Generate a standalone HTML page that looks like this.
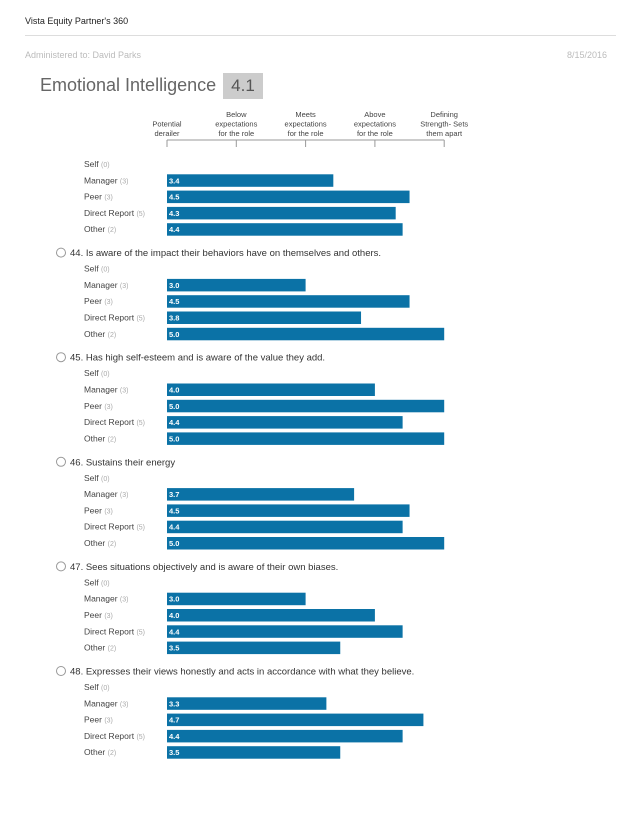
<!DOCTYPE html>
<html><head><meta charset="utf-8"><style>
body{margin:0;width:638px;height:826px;background:#fff;font-family:"Liberation Sans",sans-serif;position:relative;overflow:hidden}
.a{position:absolute;white-space:nowrap}
</style></head><body>
<div class="a" style="left:25px;top:16px;font-size:9px;color:#222">Vista Equity Partner's 360</div>
<div class="a" style="left:25px;top:35px;width:591px;height:1px;background:#ddd"></div>
<div class="a" style="left:25px;top:50px;font-size:9px;color:#bbb">Administered to: David Parks</div>
<div class="a" style="left:567px;top:50px;font-size:9px;color:#bbb">8/15/2016</div>
<div class="a" style="left:40px;top:75px;font-size:18px;color:#666;font-weight:300">Emotional Intelligence</div>
<div class="a" style="left:223px;top:73px;width:40px;height:26px;background:#ccc;color:#555;font-size:17px;text-align:center;line-height:26px">4.1</div>
<svg class="a" id="chart" style="left:0;top:0" width="638" height="826"></svg>
<script>
const scaleLabels=[["Potential","derailer"],["Below","expectations","for the role"],["Meets","expectations","for the role"],["Above","expectations","for the role"],["Defining","Strength- Sets","them apart"]];
const scaleValues=[1,2,3,4,5];
const raters=["Self","Manager","Peer","Direct Report","Other"];
const raterCounts=[0,3,3,5,2];
const questions=[null,"44. Is aware of the impact their behaviors have on themselves and others.","45. Has high self-esteem and is aware of the value they add.","46. Sustains their energy","47. Sees situations objectively and is aware of their own biases.","48. Expresses their views honestly and acts in accordance with what they believe."];
const scores=[[null,3.4,4.5,4.3,4.4],[null,3.0,4.5,3.8,5.0],[null,4.0,5.0,4.4,5.0],[null,3.7,4.5,4.4,5.0],[null,3.0,4.0,4.4,3.5],[null,3.3,4.7,4.4,3.5]];
const svg=document.getElementById('chart');const NS='http://www.w3.org/2000/svg';
const x=v=>167+(v-1)*69.3;
function mk(t,a,txt){const e=document.createElementNS(NS,t);for(const k in a)e.setAttribute(k,a[k]);if(txt!=null)e.textContent=txt;svg.appendChild(e);return e;}
let ax=mk('line',{x1:x(1),x2:x(5),y1:140,y2:140,stroke:'#999','stroke-width':1});


scaleValues.forEach((v,i)=>{
 let t=mk('line',{x1:x(v),x2:x(v),y1:140,y2:147,stroke:'#999'});
 
 
 const lines=scaleLabels[i];
 lines.forEach((s,j)=>{let tx=mk('text',{x:x(v),y:136-(lines.length-1-j)*9.5,'font-size':7.5,fill:'#444','text-anchor':'middle'},s);
 
 });
});
scores.forEach((g,gi)=>{
 const base=164+gi*104.6;
 if(questions[gi]){
  let c=mk('circle',{cx:61,cy:base-16,r:4.5,fill:'none',stroke:'#999'});
  
  
  let q=mk('text',{x:70,y:base-12.5,'font-size':9.5,fill:'#333'},questions[gi]);
  
  
 }
 raters.forEach((r,ri)=>{
  const y=base+ri*16.3;
  let l=mk('text',{x:84,y:y+3,'font-size':8.5,fill:'#444'});
  
  
  const s1=document.createElementNS(NS,'tspan');s1.textContent=r+' ';l.appendChild(s1);
  const s2=document.createElementNS(NS,'tspan');s2.setAttribute('fill','#aaa');s2.setAttribute('font-size','7');s2.textContent='('+raterCounts[ri]+')';l.appendChild(s2);
  const v=g[ri];
  if(v!=null){
   let b=mk('rect',{x:x(1),y:y-6,width:x(v)-x(1),height:12.5,fill:'#0b72a6'});
   
   
   let vt=mk('text',{x:x(1)+2,y:y+3,'font-size':7.5,'font-weight':'bold',fill:'#fff'},v.toFixed(1));
   
   
  }
 });
});
</script>
</body></html>
